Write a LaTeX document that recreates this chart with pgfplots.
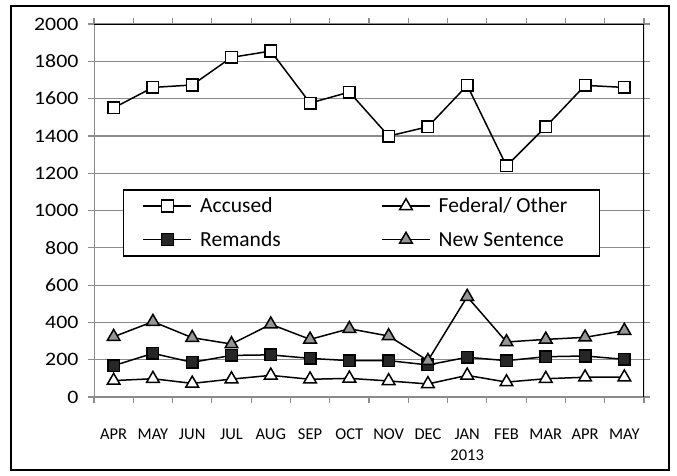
\documentclass[border=0pt]{standalone}
\usepackage{fontspec}
\setmainfont{Carlito}
\newfontfamily\ylabfont[FakeStretch=1.15]{Carlito}
\usepackage{pgfplots}
\pgfplotsset{compat=1.18}
\definecolor{gridgray}{HTML}{8C8C8C}
\definecolor{remfill}{HTML}{262626}
\definecolor{nsfill}{HTML}{969696}
\begin{document}
\begin{tikzpicture}
\path[use as bounding box] (0pt,0pt) rectangle (677pt,475pt);
\draw[black, line width=1.6pt] (11pt,5pt) rectangle (669pt,469pt);
\begin{axis}[
  at={(94pt,78pt)}, anchor=south west,
  scale only axis, width=550pt, height=373pt,
  xmin=-0.5, xmax=13.5, ymin=0, ymax=2000,
  ytick={0,200,...,2000},
  xtick={0,...,13},
  xticklabels={APR,MAY,JUN,JUL,AUG,SEP,OCT,NOV,DEC,{JAN\\2013},FEB,MAR,APR,MAY},
  minor xtick={-0.5,0.5,...,13.5},
  x tick style={draw=none},
  minor x tick style={draw=gridgray, line width=1.2pt},
  y tick style={draw=gridgray, line width=1.2pt},
  tick align=outside,
  minor tick length=6pt,
  major tick length=6pt,
  ymajorgrids,
  grid style={gridgray, line width=1.2pt},
  axis line style={draw=none},
  /pgf/number format/assume math mode=true,
  /pgf/number format/1000 sep={},
  yticklabel style={font=\ylabfont\fontsize{19}{22}\selectfont, xshift=-6pt},
  xticklabel style={font=\fontsize{16.5}{21}\selectfont, align=center, yshift=-22pt},
  legend columns=2,
  legend style={at={(rel axis cs:0.0527,0.5576)}, anchor=north west,
    draw=black, line width=1.5pt, fill=white,
    font=\fontsize{21.5}{25}\selectfont,
    inner xsep=19pt, inner ysep=6pt, row sep=13pt, column sep=6pt,
    cells={anchor=west}},
  legend image code/.code={\draw[mark repeat=2,mark phase=2,#1] plot coordinates {(0pt,0pt) (24pt,0pt) (48pt,0pt)};},
  every axis plot/.append style={black, line width=1.5pt, mark options={line width=1.4pt, solid}},
]
\draw[gridgray, line width=1.4pt] (rel axis cs:0,1) -- (rel axis cs:0,0) -- (rel axis cs:1,0);
\draw[black, line width=1.6pt] (rel axis cs:0,1) -- (rel axis cs:1,1) -- (rel axis cs:1,0);
\addplot[mark=square*, mark size=5.8pt, mark options={fill=white}] coordinates {
(0,1550) (1,1660) (2,1673) (3,1821) (4,1855) (5,1576) (6,1635) (7,1399) (8,1449) (9,1671) (10,1239) (11,1449) (12,1671) (13,1660)};
\addplot[mark=triangle*, mark size=7.3pt, mark options={fill=white}] coordinates {
(0,88) (1,98) (2,73) (3,96) (4,116) (5,95) (6,100) (7,86) (8,70) (9,116) (10,80) (11,98) (12,106) (13,106)};
\addplot[mark=square*, mark size=5.8pt, mark options={fill=remfill}] coordinates {
(0,168) (1,234) (2,186) (3,223) (4,226) (5,207) (6,195) (7,195) (8,172) (9,213) (10,195) (11,216) (12,220) (13,202)};
\addplot[mark=triangle*, mark size=7.3pt, mark options={fill=nsfill}] coordinates {
(0,323) (1,404) (2,318) (3,284) (4,390) (5,309) (6,366) (7,327) (8,195) (9,538) (10,295) (11,309) (12,320) (13,356)};
\legend{\makebox[173pt][l]{\rule[-6pt]{0pt}{21pt}Accused},\makebox[140pt][l]{\rule[-6pt]{0pt}{21pt}Federal/ Other},\makebox[173pt][l]{\rule[-6pt]{0pt}{21pt}Remands},\makebox[140pt][l]{\rule[-6pt]{0pt}{21pt}New Sentence}}
\end{axis}
\end{tikzpicture}
\end{document}
